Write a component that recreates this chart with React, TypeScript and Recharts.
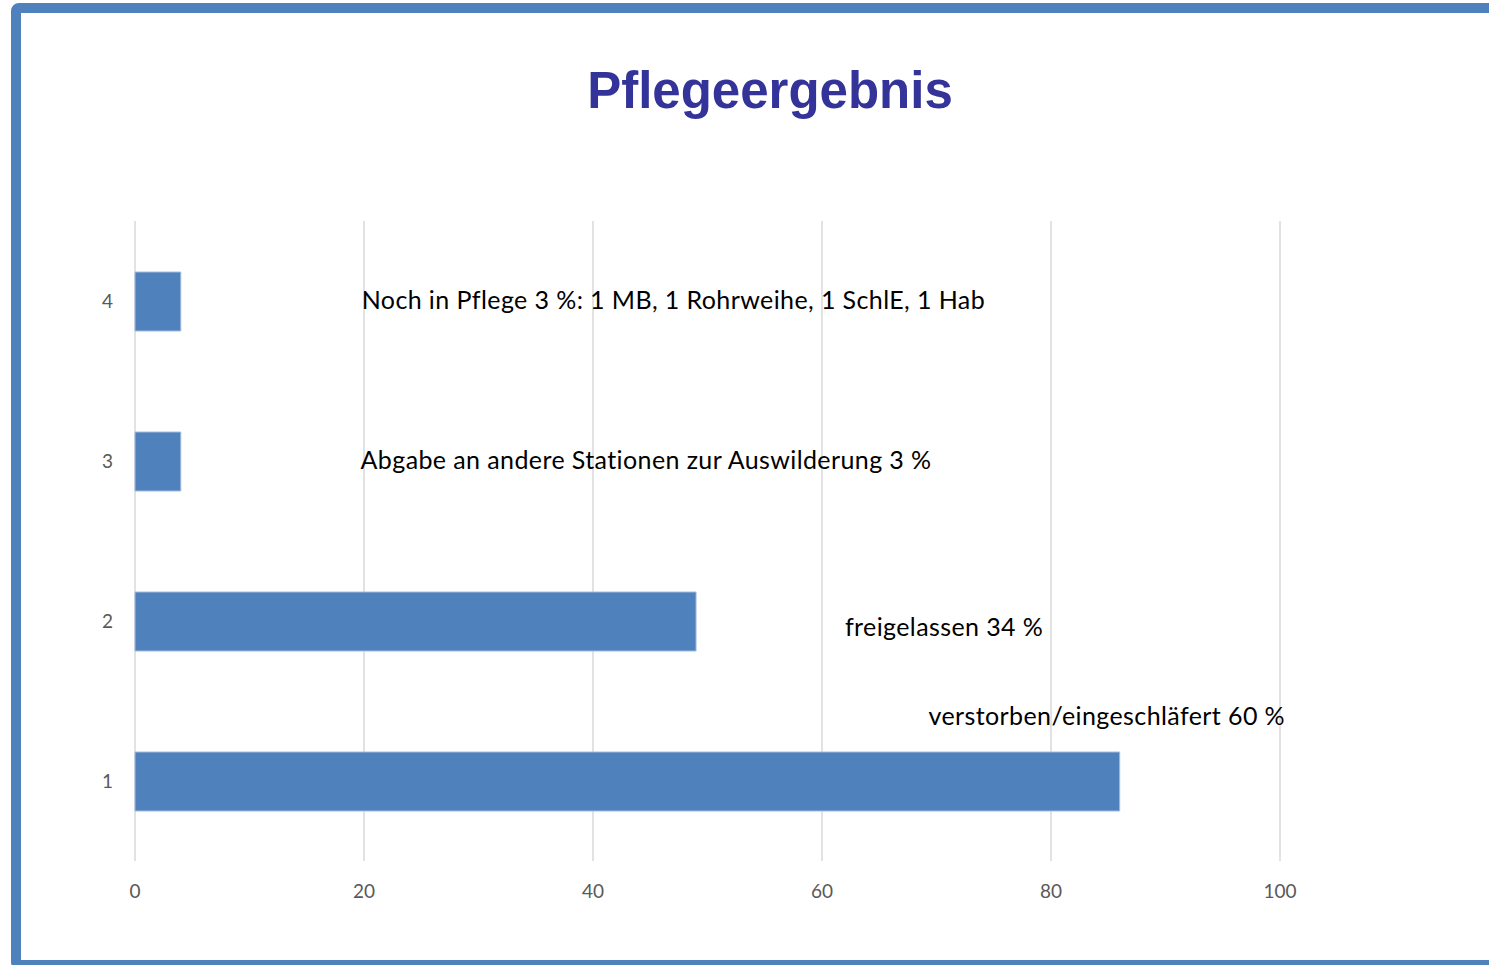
import React from 'react';
import { BarChart, Bar, XAxis, YAxis, CartesianGrid, ReferenceDot, Label } from 'recharts';

const categories = ['1', '2', '3', '4'];
const values = [86, 49, 4, 4];
const xTicks = [0, 20, 40, 60, 80, 100];

// annotation texts, anchored in data units (x value, category)
const labelTexts = [
  'verstorben/eingeschläfert 60 %',
  'freigelassen 34 %',
  'Abgabe an andere Stationen zur Auswilderung 3 %',
  'Noch in Pflege 3 %: 1 MB, 1 Rohrweihe, 1 SchlE, 1 Hab',
];
const labelX = [69.3, 62.0, 19.7, 19.8];
const labelDy = [-56, 15, 8, 8];

const data = categories.map((c, i) => ({ cat: c, value: values[i] }));

const blue = '#4f81bd';
const textFont = 'Lato, "Open Sans", sans-serif';

export default function App() {
  return (
    <div style={{ position: 'fixed', left: 0, top: 0, width: 1489, height: 965, overflow: 'hidden', background: '#fff' }}>
      <div
        style={{
          position: 'absolute',
          left: 11,
          top: 3,
          width: 1540,
          height: 967,
          border: `10px solid ${blue}`,
          borderRadius: 8,
          boxSizing: 'border-box',
        }}
      />
      <svg style={{ position: 'absolute', left: 0, top: 0 }} width={1489} height={140}>
        <text
          x={770}
          y={108}
          textAnchor="middle"
          fill="#333399"
          fontFamily='"Liberation Sans", Arial, sans-serif'
          fontWeight="bold"
          fontSize={51}
        >
          Pflegeergebnis
        </text>
      </svg>
      <div style={{ position: 'absolute', left: 0, top: 0 }}>
        <BarChart
          width={1489}
          height={965}
          data={data}
          layout="vertical"
          margin={{ top: 221, right: 209, left: 0, bottom: 0 }}
        >
          <CartesianGrid horizontal={false} stroke="#d9d9d9" strokeWidth={1.5} />
          <XAxis
            type="number"
            domain={[0, 100]}
            ticks={xTicks}
            height={104}
            axisLine={false}
            tickLine={false}
            tickMargin={18}
            tick={{ fill: '#595959', fontSize: 19, fontFamily: textFont }}
          />
          <YAxis
            type="category"
            dataKey="cat"
            reversed
            width={135}
            axisLine={false}
            tickLine={false}
            tickMargin={16}
            tick={{ fill: '#595959', fontSize: 19, fontFamily: textFont }}
          />
          <Bar dataKey="value" fill={blue} stroke="#a4bde0" strokeWidth={1} barSize={59} isAnimationActive={false} />
          {categories.map((c, i) => (
            <ReferenceDot
              key={c}
              x={labelX[i]}
              y={c}
              r={0}
              fill="none"
              stroke="none"
              label={
                <Label
                  content={(props: any) => {
                    const vb = props.viewBox || {};
                    return (
                      <text
                        x={vb.x}
                        y={vb.y + labelDy[i]}
                        textAnchor="start"
                        fill="#000"
                        fontSize={25}
                        letterSpacing={0.4}
                        fontFamily={textFont}
                      >
                        {labelTexts[i]}
                      </text>
                    );
                  }}
                />
              }
            />
          ))}
        </BarChart>
      </div>
    </div>
  );
}
